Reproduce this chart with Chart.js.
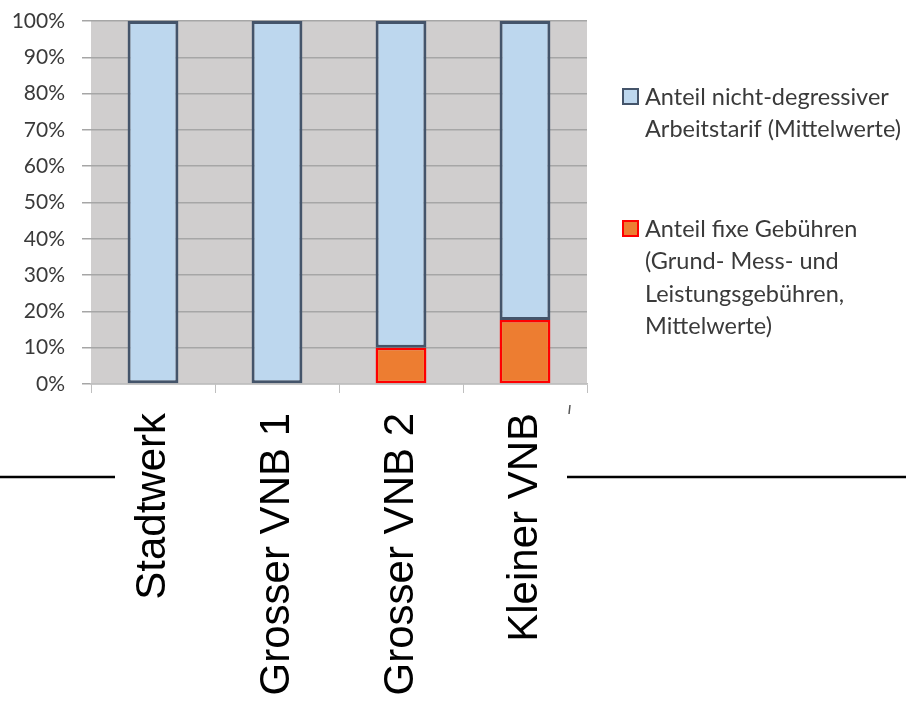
<!DOCTYPE html>
<html>
<head>
<meta charset="utf-8">
<script src="https://cdn.jsdelivr.net/npm/chart.js@4/dist/chart.umd.min.js"></script>
<style>
  body { margin: 0; background: #fff; }
  #wrap { width: 906px; height: 701px; position: relative; }
</style>
</head>
<body>
<div id="wrap"><canvas id="chart"></canvas></div>
<script>
const categories = ['Stadtwerk', 'Grosser VNB 1', 'Grosser VNB 2', 'Kleiner VNB'];
const fixeGebuehren = [0, 0, 10, 17.6];
const arbeitstarif = [100, 100, 90, 82.4];
const yTicks = [0, 10, 20, 30, 40, 50, 60, 70, 80, 90, 100];
const legendArbeit = ['Anteil nicht-degressiver', 'Arbeitstarif (Mittelwerte)'];
const legendFix = ['Anteil fixe Gebühren', '(Grund- Mess- und', 'Leistungsgebühren,', 'Mittelwerte)'];

// grey plot background
const plotBg = {
    id: 'plotBg',
    beforeDraw(chart) {
        const a = chart.chartArea;
        const ctx = chart.ctx;
        ctx.save();
        ctx.fillStyle = '#d0cece';
        ctx.fillRect(a.left, a.top, a.right - a.left, a.bottom - a.top);
        ctx.restore();
    }
};

// legend on the right + the stray lines of the slide
const sideLegend = {
    id: 'sideLegend',
    afterDraw(chart) {
        const ctx = chart.ctx;
        ctx.save();
        const blocks = [
            { ds: chart.data.datasets[1], lines: legendArbeit, y: 97 },
            { ds: chart.data.datasets[0], lines: legendFix, y: 229 }
        ];
        blocks.forEach(b => {
            ctx.fillStyle = b.ds.backgroundColor;
            ctx.fillRect(623, b.y - 8, 15, 15);
            ctx.strokeStyle = b.ds.borderColor;
            ctx.lineWidth = 2;
            ctx.strokeRect(623, b.y - 8, 15, 15);
            ctx.fillStyle = '#3a3a3a';
            ctx.font = '23.5px Lato';
            ctx.textBaseline = 'middle';
            b.lines.forEach((t, i) => ctx.fillText(t, 645, b.y + i * 32.5));
        });

        ctx.strokeStyle = '#000';
        ctx.lineWidth = 2.5;
        ctx.beginPath();
        ctx.moveTo(0, 477); ctx.lineTo(115, 477);
        ctx.moveTo(567, 477); ctx.lineTo(906, 477);
        ctx.stroke();
        ctx.lineWidth = 1.5;
        ctx.strokeStyle = '#555';
        ctx.beginPath();
        ctx.moveTo(570, 405); ctx.lineTo(569, 414);
        ctx.stroke();
        ctx.restore();
    }
};

new Chart(document.getElementById('chart'), {
    type: 'bar',
    data: {
        labels: categories,
        datasets: [
            {
                label: legendFix.join(' '),
                data: fixeGebuehren,
                backgroundColor: '#ed7d31',
                borderColor: '#ff0000',
                borderWidth: c => (c.raw ? 2.5 : 0),
                borderSkipped: false
            },
            {
                label: legendArbeit.join(' '),
                data: arbeitstarif,
                backgroundColor: '#bdd7ee',
                borderColor: '#44546a',
                borderWidth: 3,
                borderSkipped: false
            }
        ]
    },
    options: {
        responsive: true,
        maintainAspectRatio: false,
        animation: false,
        categoryPercentage: 1,
        barPercentage: 0.41,
        layout: { padding: { top: 21, right: 319, left: 0, bottom: 0 } },
        plugins: {
            legend: { display: false },
            tooltip: { enabled: false }
        },
        scales: {
            x: {
                stacked: true,
                afterFit: s => { s.height = 317; s.paddingLeft = 0; s.paddingRight = 0; },
                grid: { drawOnChartArea: false, tickLength: 9, color: '#bfbfbf' },
                border: { color: '#bfbfbf', width: 1.5 },
                ticks: {
                    autoSkip: false,
                    maxRotation: 90,
                    minRotation: 90,
                    padding: 20,
                    color: '#000',
                    font: { family: 'Liberation Sans', size: 42 }
                }
            },
            y: {
                stacked: true,
                min: 0,
                max: 100,
                afterFit: s => { s.width = 91; s.paddingTop = 0; s.paddingBottom = 0; },
                afterBuildTicks: s => { s.ticks = yTicks.map(v => ({ value: v })); },
                grid: { color: '#a6a6a6', lineWidth: 1.5, tickLength: 9 },
                border: { display: false },
                ticks: {
                    padding: 17,
                    color: '#3a3a3a',
                    font: { family: 'Lato', size: 21 },
                    callback: v => v + '%'
                }
            }
        }
    },
    plugins: [plotBg, sideLegend]
});
</script>
</body>
</html>
